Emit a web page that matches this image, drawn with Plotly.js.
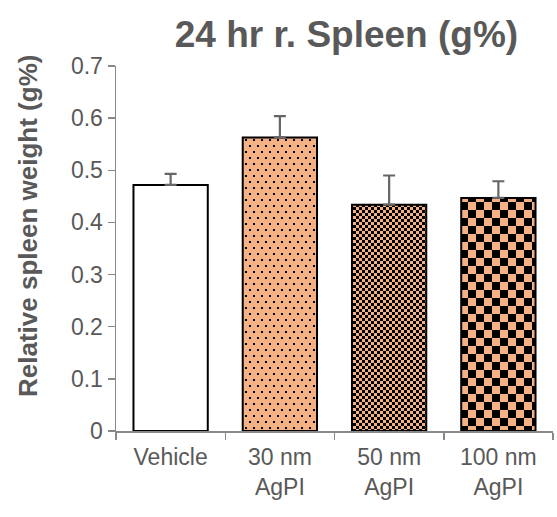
<!DOCTYPE html>
<html>
<head>
<meta charset="utf-8">
<script src="https://cdn.plot.ly/plotly-3.0.1.min.js"></script>
<style>html,body{margin:0;padding:0;background:#fff;}#chart{width:557px;height:517px;}</style>
</head>
<body>
<div id="chart"></div>
<script>
// Data
var categories = ["Vehicle", "30 nm<br>AgPI", "50 nm<br>AgPI", "100 nm<br>AgPI"];
var values = [0.472, 0.563, 0.434, 0.447];
var errors = [0.021, 0.041, 0.056, 0.032];
var yTicks = [0, 0.1, 0.2, 0.3, 0.4, 0.5, 0.6, 0.7];

var ORANGE = "#F4B183";
var GRAY = "#595959";
var FONT = "Liberation Sans, Arial, sans-serif";

var trace = {
  type: "bar",
  x: categories,
  y: values,
  width: 0.68,
  marker: {
    color: ["#ffffff", ORANGE, ORANGE, ORANGE],
    line: {color: "#000000", width: 2},
    pattern: {
      shape: ["", ".", "+", "x"],
      fgcolor: "#000000",
      bgcolor: ORANGE,
      size: [8, 8, 6, 16],
      solidity: 0.2
    }
  },
  error_y: {type: "data", array: errors, symmetric: false, arrayminus: [0,0,0,0], color: "#666666", thickness: 2.2, width: 6},
  hoverinfo: "none"
};

var layout = {
  width: 557, height: 517,
  margin: {l: 116, r: 4, t: 66, b: 86},
  paper_bgcolor: "#ffffff",
  plot_bgcolor: "#ffffff",
  showlegend: false,
  font: {family: FONT, color: GRAY, size: 23},
  title: {
    text: "<b>24 hr r. Spleen (g%)</b>",
    font: {family: FONT, size: 37, color: GRAY},
    xref: "container", x: 0.622, xanchor: "center",
    yref: "container", y: 0.935, yanchor: "middle"
  },
  xaxis: {
    type: "category",
    showline: true, linecolor: "#898989", linewidth: 1.5,
    ticks: "outside", tickson: "boundaries", ticklen: 7, tickcolor: "#898989", tickwidth: 1.5,
    ticklabelstandoff: 5,
    showgrid: false, zeroline: false,
    tickfont: {family: FONT, size: 23, color: GRAY}
  },
  yaxis: {
    range: [0, 0.7], tickvals: yTicks,
    showline: true, linecolor: "#898989", linewidth: 1.5,
    ticks: "outside", ticklen: 7, tickcolor: "#898989", tickwidth: 1.5,
    showgrid: false, zeroline: false,
    tickfont: {family: FONT, size: 23, color: GRAY}
  },
  annotations: [{
    text: "<b>Relative spleen weight (g%)</b>",
    textangle: -90,
    xref: "paper", yref: "paper",
    x: (28 - 116) / 437, y: (431 - 226) / 365,
    xanchor: "center", yanchor: "middle",
    showarrow: false,
    font: {family: FONT, size: 26, color: GRAY}
  }]
};

var SVGNS = "http://www.w3.org/2000/svg";
function rect(x, y, w, h, fill) {
  var r = document.createElementNS(SVGNS, "rect");
  r.setAttribute("x", x); r.setAttribute("y", y);
  r.setAttribute("width", w); r.setAttribute("height", h);
  r.setAttribute("fill", fill);
  return r;
}
function fixPatterns() {
  var paths = document.querySelectorAll("#chart .trace.bars .point path");
  paths.forEach(function (p, i) {
    if (i === 0) return;
    var f = p.style.fill || p.getAttribute("fill") || "";
    var m = f.match(/#([^"')]+)/);
    if (!m) return;
    var pat = document.getElementById(m[1]);
    if (!pat) return;
    while (pat.firstChild) pat.removeChild(pat.firstChild);
    pat.removeAttribute("patternTransform");
    if (i === 1) {
      pat.setAttribute("width", 8); pat.setAttribute("height", 12);
      pat.appendChild(rect(0, 0, 8, 12, ORANGE));
      pat.appendChild(rect(1, 1, 2, 2, "#000"));
      pat.appendChild(rect(5, 7, 2, 2, "#000"));
    } else {
      var s = (i === 2) ? 3 : 8;
      pat.setAttribute("width", 2 * s); pat.setAttribute("height", 2 * s);
      pat.appendChild(rect(0, 0, 2 * s, 2 * s, ORANGE));
      pat.appendChild(rect(0, 0, s, s, "#000"));
      pat.appendChild(rect(s, s, s, s, "#000"));
    }
  });
}

Plotly.newPlot("chart", [trace], layout, {displayModeBar: false, staticPlot: true}).then(fixPatterns);
</script>
</body>
</html>
